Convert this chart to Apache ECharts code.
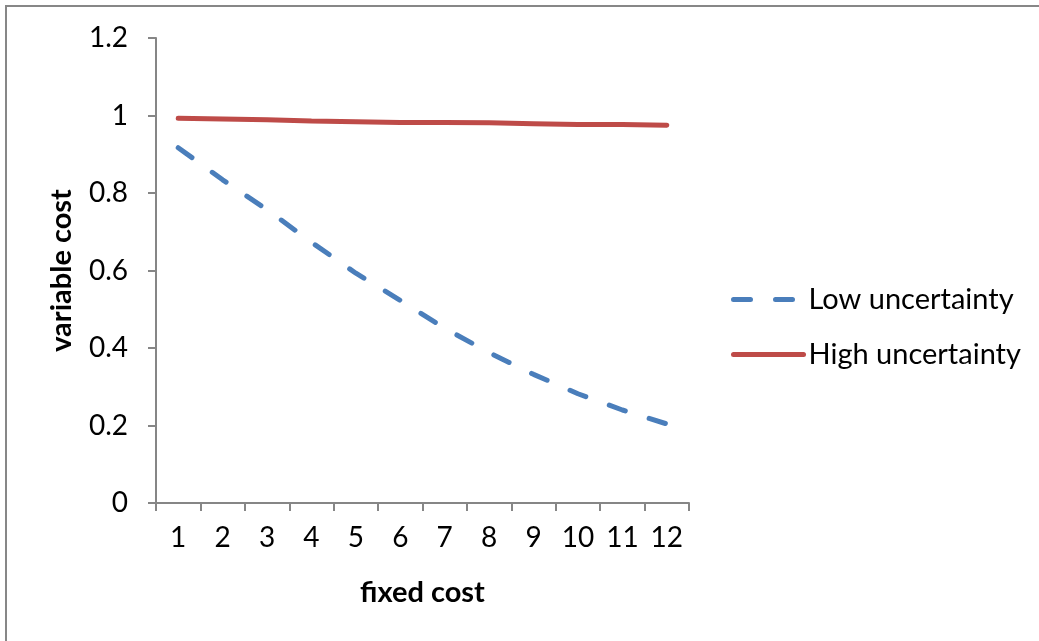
<!DOCTYPE html>
<html>
<head>
<meta charset="utf-8">
<script src="https://cdn.jsdelivr.net/npm/echarts@6/dist/echarts.min.js"></script>
<style>
html,body{margin:0;padding:0;background:#fff;}
#c{width:1039px;height:641px;}
</style>
</head>
<body>
<div id="c"></div>
<script>
const categories = ['1','2','3','4','5','6','7','8','9','10','11','12'];
const lowUncertainty = [0.917, 0.834, 0.757, 0.673, 0.593, 0.523, 0.451, 0.388, 0.332, 0.282, 0.240, 0.204];
const highUncertainty = [0.993, 0.991, 0.989, 0.986, 0.984, 0.982, 0.982, 0.981, 0.979, 0.977, 0.977, 0.975];
const yTicks = { min: 0, max: 1.2, interval: 0.2 };

const FONT = 'Lato';
const chart = echarts.init(document.getElementById('c'), null, {renderer: 'canvas'});
chart.setOption({
  backgroundColor: '#ffffff',
  animation: false,
  graphic: [{
    type: 'rect',
    shape: {x: 6, y: 6, width: 1100, height: 700},
    style: {fill: 'none', stroke: '#878787', lineWidth: 2},
    silent: true
  }],
  grid: {left: 156, right: 350, top: 38, bottom: 138, containLabel: false},
  legend: {
    orient: 'vertical',
    left: 726,
    top: 280,
    itemWidth: 70,
    itemHeight: 14,
    itemGap: 26,
    textStyle: {fontFamily: FONT, fontSize: 29, color: '#000'},
    itemStyle: {opacity: 0},
    lineStyle: {width: 5, cap: 'round'},
    data: ['Low uncertainty', 'High uncertainty']
  },
  xAxis: {
    type: 'category',
    data: categories,
    boundaryGap: true,
    name: 'fixed cost',
    nameLocation: 'middle',
    nameGap: 75,
    nameTextStyle: {fontFamily: FONT, fontSize: 29, fontWeight: 'bold', color: '#000'},
    axisLine: {lineStyle: {color: '#868686', width: 2}},
    axisTick: {show: true, length: 8, lineStyle: {color: '#868686', width: 2}},
    axisLabel: {fontFamily: FONT, fontSize: 28, color: '#000', margin: 21, interval: 0},
    splitLine: {show: false}
  },
  yAxis: {
    type: 'value',
    min: yTicks.min,
    max: yTicks.max,
    interval: yTicks.interval,
    name: 'variable cost',
    nameLocation: 'middle',
    nameGap: 80,
    nameRotate: 90,
    nameTextStyle: {fontFamily: FONT, fontSize: 29, fontWeight: 'bold', color: '#000'},
    axisLine: {show: true, lineStyle: {color: '#868686', width: 2}},
    axisTick: {show: true, length: 8, lineStyle: {color: '#868686', width: 2}},
    axisLabel: {fontFamily: FONT, fontSize: 28, color: '#000', margin: 28},
    splitLine: {show: false}
  },
  series: [
    {
      name: 'Low uncertainty',
      type: 'line',
      data: lowUncertainty,
      symbol: 'none',
      smooth: false,
      lineStyle: {color: '#4A7EBB', width: 5, type: [17, 25], cap: 'round'},
      itemStyle: {color: '#4A7EBB'}
    },
    {
      name: 'High uncertainty',
      type: 'line',
      data: highUncertainty,
      symbol: 'none',
      smooth: false,
      lineStyle: {color: '#BE4B48', width: 5, cap: 'round'},
      itemStyle: {color: '#BE4B48'}
    }
  ]
});
</script>
</body>
</html>
